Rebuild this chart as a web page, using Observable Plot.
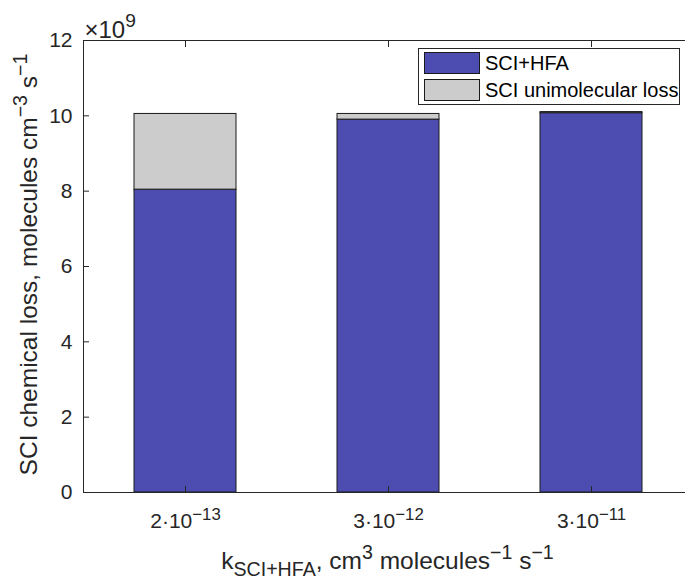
<!DOCTYPE html>
<html>
<head>
<meta charset="utf-8">
<script src="https://cdn.jsdelivr.net/npm/d3@7"></script>
<script src="https://cdn.jsdelivr.net/npm/@observablehq/plot@0.6"></script>
<style>
  html, body { margin: 0; padding: 0; background: white; overflow: hidden; }
  #wrap { position: relative; width: 685px; height: 582px; font-family: "Liberation Sans", Arial, sans-serif; }
  #legend { position: absolute; left: 418px; top: 48px; width: 260px; height: 55px; border: 1px solid #262626; background: white; box-sizing: content-box; }
  #legend .row { position: absolute; left: 5px; height: 22px; display: flex; align-items: center; }
  #legend .sw { width: 56px; height: 22px; border: 1px solid #1a1a1a; box-sizing: border-box; }
  #legend .lb { margin-left: 5px; font-size: 20px; color: #000; white-space: nowrap; }
</style>
</head>
<body>
<div id="wrap"></div>
<script>
// ---- data ----
const categories = ["2·10^{−13}", "3·10^{−12}", "3·10^{−11}"];
const seriesNames = ["SCI+HFA", "SCI unimolecular loss"];
const hfaLoss = [8.04, 9.90, 10.07];
const uniLoss = [2.01, 0.15, 0.03];
const seriesColors = ["#4c4cb1", "#cccccc"];
const yTicks = [0, 2, 4, 6, 8, 10, 12];
const yScaleLabel = "×10^{9}";
const xLabel = "k_{SCI+HFA}, cm^{3} molecules^{−1} s^{−1}";
const yLabel = "SCI chemical loss, molecules cm^{−3} s^{−1}";

const seriesValues = [hfaLoss, uniLoss];
const rows = [];
seriesNames.forEach((s, si) => categories.forEach((c, ci) => rows.push({k: c, series: s, value: seriesValues[si][ci]})));

const ink = "#262626";

const chart = Plot.plot({
  width: 685,
  height: 582,
  marginLeft: 83,
  marginTop: 40,
  marginRight: 0,
  marginBottom: 90,
  style: {fontFamily: "'Liberation Sans', Arial, sans-serif", background: "white", overflow: "hidden", color: ink},
  x: {domain: categories, range: [83, 692], paddingInner: 0.5, paddingOuter: 0.25, label: null},
  y: {domain: [0, 12], range: [492, 40], label: null},
  color: {domain: seriesNames, range: seriesColors},
  marks: [
    Plot.barY(rows, Plot.stackY({x: "k", y: "value", fill: "series", stroke: "#1a1a1a", strokeWidth: 1})),
    Plot.frame({anchor: "left", stroke: ink}),
    Plot.frame({anchor: "top", stroke: ink}),
    Plot.frame({anchor: "bottom", stroke: ink}),
    Plot.axisY(yTicks, {anchor: "left", tickSize: -6, tickPadding: 17, fontSize: 21, stroke: ink, fill: ink, label: null, tickFormat: d => String(d)}),
    Plot.axisX({anchor: "bottom", tickSize: -6, tickPadding: 27, fontSize: 21, stroke: ink, fill: ink, label: null}),
    Plot.axisX({anchor: "top", tickSize: -6, tickFormat: () => "", stroke: ink, label: null}),
    Plot.text([yScaleLabel], {text: d => d, frameAnchor: "top-left", textAnchor: "start", lineAnchor: "bottom", dx: 1, dy: -3, fontSize: 24, fill: ink}),
    Plot.text([yLabel], {text: d => d, frameAnchor: "left", textAnchor: "middle", rotate: -90, lineAnchor: "middle", dx: -54, dy: -2, fontSize: 24.5, fill: ink}),
    Plot.text([xLabel], {text: d => d, frameAnchor: "bottom", textAnchor: "middle", lineAnchor: "middle", dx: 3, dy: 69, fontSize: 24.5, fill: ink})
  ]
});

// rich text: ^{..} superscript, _{..} subscript
function richify(el) {
  const str = el.textContent;
  if (!/[\^_]\{/.test(str)) return;
  const fs = parseFloat(getComputedStyle(el).fontSize) || 16;
  const parts = [];
  const re = /([\^_])\{([^}]*)\}/g;
  let last = 0, m;
  while ((m = re.exec(str))) {
    if (m.index > last) parts.push({t: str.slice(last, m.index), s: 0});
    parts.push({t: m[2], s: m[1] === "^" ? 1 : -1});
    last = re.lastIndex;
  }
  if (last < str.length) parts.push({t: str.slice(last), s: 0});
  while (el.firstChild) el.removeChild(el.firstChild);
  let cur = 0;
  for (const p of parts) {
    const ts = document.createElementNS("http://www.w3.org/2000/svg", "tspan");
    const target = p.s === 1 ? -0.42 * fs : p.s === -1 ? 0.28 * fs : 0;
    if (target !== cur) ts.setAttribute("dy", (target - cur).toFixed(2));
    cur = target;
    if (p.s) ts.setAttribute("font-size", (0.8 * fs).toFixed(2));
    ts.textContent = p.t;
    el.appendChild(ts);
  }
}

const wrap = document.getElementById("wrap");
wrap.appendChild(chart);
d3.select(chart).selectAll("text").each(function() { richify(this); });

// legend
const legend = document.createElement("div");
legend.id = "legend";
seriesNames.forEach((name, i) => {
  const row = document.createElement("div");
  row.className = "row";
  row.style.top = (3 + i * 27) + "px";
  const sw = document.createElement("div");
  sw.className = "sw";
  sw.style.background = seriesColors[i];
  const lb = document.createElement("span");
  lb.className = "lb";
  lb.textContent = name;
  row.appendChild(sw); row.appendChild(lb);
  legend.appendChild(row);
});
wrap.appendChild(legend);
</script>
</body>
</html>
